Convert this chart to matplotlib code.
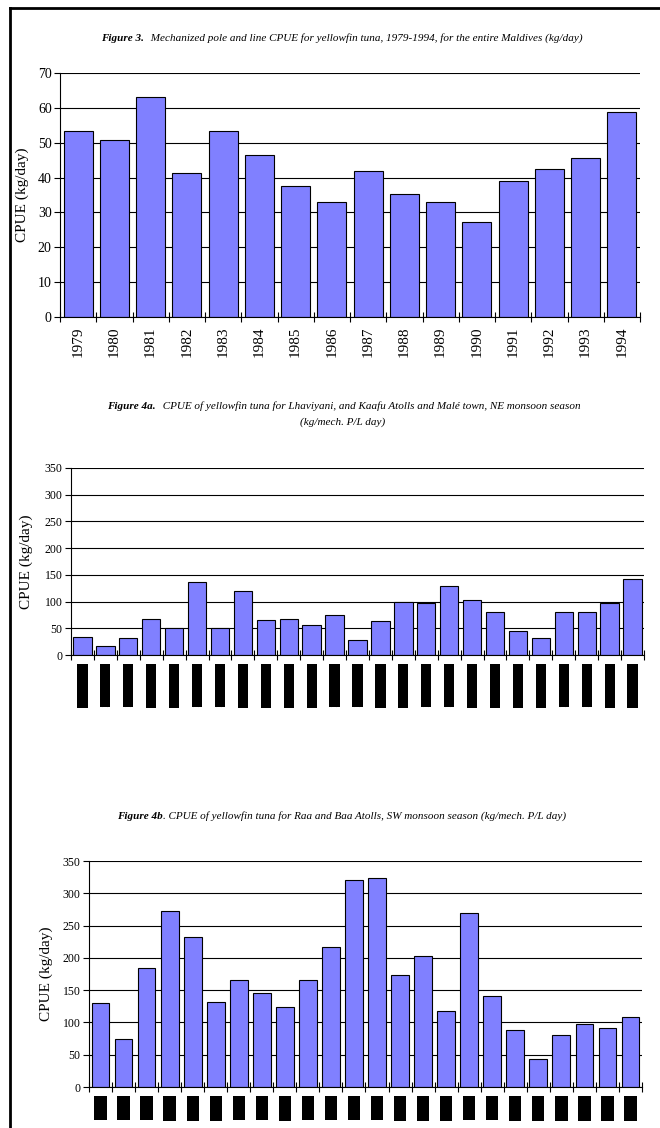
import matplotlib
matplotlib.use("Agg")
import matplotlib.pyplot as plt
from matplotlib.text import Annotation
from matplotlib.lines import Line2D
import numpy as np

plt.rcParams['font.family'] = ['Liberation Serif', 'DejaVu Serif']

# ---------------- data ----------------
years3 = [str(y) for y in range(1979, 1995)]
cpue3 = [53.5, 50.8, 63.0, 41.3, 53.3, 46.6, 37.5, 32.9, 42.0, 35.3, 32.9, 27.2, 38.9, 42.4, 45.5, 58.8]

seasons4a = [f"{y}-{y+1}" for y in range(1970, 1995)]
cpue4a = [34, 16, 32, 68, 50, 137, 50, 119, 66, 68, 57, 75, 29, 63, 100, 97, 130, 103, 81, 45, 31, 81, 81, 97, 143]

seasons4b = [str(y) for y in range(1971, 1995)]
cpue4b = [130, 75, 185, 272, 232, 132, 166, 145, 124, 166, 217, 321, 323, 174, 203, 118, 269, 141, 88, 43, 81, 98, 92, 109]

BAR = '#8080FF'
W, H = 660, 1128
fig = plt.figure(figsize=(W / 100, H / 100), dpi=100)


def ax_px(left, right, top, bottom):
    return fig.add_axes([left / W, 1 - bottom / H, (right - left) / W, (bottom - top) / H])


def style(ax, n, ymax, ystep, ysize):
    ax.set_xlim(-0.5, n - 0.5)
    ax.set_ylim(0, ymax)
    ax.set_yticks(np.arange(0, ymax + 1, ystep))
    ax.yaxis.grid(True, color='black', lw=0.8)
    ax.set_axisbelow(True)
    for s in ('top', 'right'):
        ax.spines[s].set_visible(False)
    ax.spines['left'].set_linewidth(0.8)
    ax.spines['bottom'].set_linewidth(0.8)
    ax.set_xticks(np.arange(-0.5, n, 1.0), minor=True)
    ax.tick_params(axis='x', which='minor', direction='inout', length=7, width=0.8)
    ax.tick_params(axis='x', which='major', length=0)
    ax.tick_params(axis='y', length=4, width=0.8, pad=2, labelsize=ysize)


def title_parts(x, y, bold, rest, size, gap=3):
    t1 = fig.text(x / W, 1 - y / H, bold, fontsize=size, fontstyle='italic',
                  fontweight='bold', va='baseline', ha='left')
    a = Annotation(rest, xy=(1, 0), xycoords=t1, xytext=(gap, 0), textcoords='offset points',
                   fontsize=size, fontstyle='italic', va='bottom', ha='left')
    fig.add_artist(a)


# page frame
fig.add_artist(Line2D([10 / W, 1], [1 - 8 / H, 1 - 8 / H], color='black', lw=2))
fig.add_artist(Line2D([10 / W, 10 / W], [0, 1 - 8 / H], color='black', lw=2))

# ---------------- Figure 3 ----------------
ax1 = ax_px(60, 640, 73, 317)
x1 = np.arange(len(years3))
ax1.bar(x1, cpue3, width=0.8, color=BAR, edgecolor='black', linewidth=0.8)
style(ax1, len(years3), 70, 10, 10)
ax1.set_xticks(x1)
ax1.set_xticklabels(years3, rotation=90, fontsize=11)
ax1.tick_params(axis='x', which='major', pad=7)
ax1.set_ylabel('CPUE (kg/day)', fontsize=11)
ax1.yaxis.set_label_coords(-0.053, 0.5)
title_parts(101, 41, 'Figure 3.',
            ' Mechanized pole and line CPUE for yellowfin tuna, 1979-1994, for the entire Maldives (kg/day)', 8)

# ---------------- Figure 4a ----------------
ax2 = ax_px(71, 644, 468, 655)
x2 = np.arange(len(seasons4a))
ax2.bar(x2, cpue4a, width=0.8, color=BAR, edgecolor='black', linewidth=0.8)
style(ax2, len(seasons4a), 350, 50, 8.5)
ax2.set_xticks(x2)
ax2.set_xticklabels(seasons4a, rotation=90, fontsize=7, color='black', va='top')
ax2.tick_params(axis='x', which='major', pad=7)
for lbl in ax2.get_xticklabels():
    lbl.set_bbox(dict(facecolor='black', edgecolor='none', pad=0.4))
ax2.set_ylabel('CPUE (kg/day)', fontsize=11)
ax2.yaxis.set_label_coords(-0.066, 0.5)
title_parts(107, 409, 'Figure 4a.',
            ' CPUE of yellowfin tuna for Lhaviyani, and Kaafu Atolls and Malé town, NE monsoon season', 8)
fig.text(343 / W, 1 - 425 / H, '(kg/mech. P/L day)', fontsize=8, fontstyle='italic',
         ha='center', va='baseline')

# ---------------- Figure 4b ----------------
ax3 = ax_px(89, 642, 861, 1087)
x3 = np.arange(len(seasons4b))
ax3.bar(x3, cpue4b, width=0.77, color=BAR, edgecolor='black', linewidth=0.8)
style(ax3, len(seasons4b), 350, 50, 8.5)
ax3.set_xticks(x3)
ax3.set_xticklabels(seasons4b, rotation=90, fontsize=7.5, color='black', va='top')
ax3.tick_params(axis='x', which='major', pad=8)
for lbl in ax3.get_xticklabels():
    lbl.set_bbox(dict(facecolor='black', edgecolor='none', pad=1.2))
ax3.set_ylabel('CPUE (kg/day)', fontsize=11)
ax3.yaxis.set_label_coords(-0.065, 0.5)
title_parts(117, 819, 'Figure 4b',
            '. CPUE of yellowfin tuna for Raa and Baa Atolls, SW monsoon season (kg/mech. P/L day)', 8, gap=0)

fig.savefig('out.png', dpi=100)
